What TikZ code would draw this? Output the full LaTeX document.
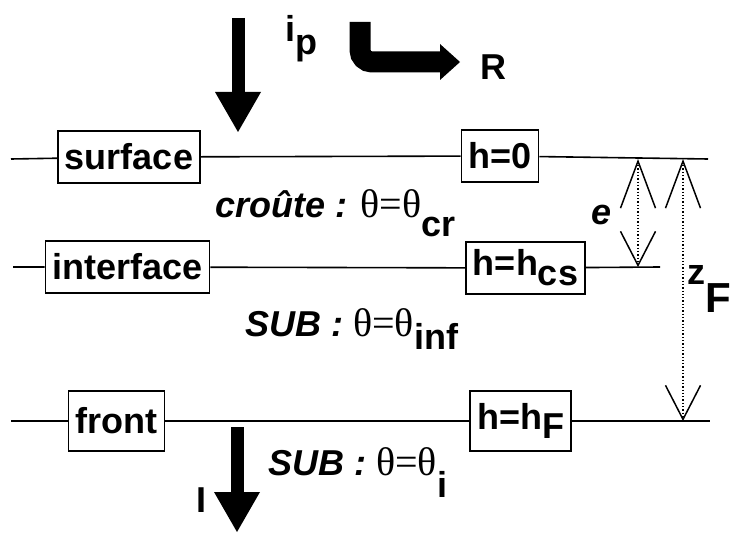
\documentclass[tikz,border=0pt]{standalone}
\usepackage{fontspec}
\setmainfont{Liberation Sans}
\newfontfamily\symfont{Liberation Serif}
\usetikzlibrary{arrows.meta}

% lowered index, same size as the text
\newcommand{\lowr}[2]{\raisebox{-#1pt}{#2}}
\newcommand{\theq}{{\mdseries\symfont\fontsize{40}{42}\selectfont θ=θ}}

\begin{document}
\begin{tikzpicture}[
  x=1pt, y=-1pt,
  font=\fontsize{36}{40}\selectfont\bfseries,
  level/.style={draw, line width=1.8pt, inner xsep=7pt, minimum height=52pt},
  rule/.style={line width=1.6pt},
  lbl/.style={anchor=base west, inner sep=0pt},
  bigarrow/.style={line width=13pt, -{Triangle[length=40pt,width=46pt,line width=0pt]}},
  dimline/.style={line width=1.3pt, dotted,
    {Straight Barb[length=47pt,width=35pt,line width=1.5pt]}-{Straight Barb[length=34pt,width=35pt,line width=1.5pt]}},
]
\useasboundingbox (0,0) rectangle (733,534);

% levels
\node[level] (surf) at (129,157) {surface};
\node[level] (h0) at (500,156) {h=0};
\node[level] (iface) at (127.5,267) {interface};
\node[level] (hcs) at (525.5,268) {h=h\lowr{10}{cs}};
\node[level, minimum height=60pt] (front) at (116.5,421) {front};
\node[level, minimum height=60pt] (hF) at (520.5,421) {h=h\lowr{9}{F}};

\coordinate (l1) at (11,159);   \coordinate (r1) at (708,159);
\coordinate (l2) at (13,267);   \coordinate (r2) at (660,267);
\coordinate (l3) at (11,421);   \coordinate (r3) at (710,421);

\draw[rule] (l1) -- (surf) -- (h0) -- (r1);
\draw[rule] (l2) -- (iface) -- (hcs) -- (r2);
\draw[rule] (l3) -- (front) -- (hF) -- (r3);

% layers
\node[lbl] (crlab) at (215,218) {\textit{croûte :} \theq\lowr{19}{cr}};
\node[lbl] (inflab) at (245,337) {\textit{SUB :} \theq\lowr{13}{inf}};
\node[lbl] (ilab) at (268,475) {\textit{SUB :} \theq\lowr{22}{i}};

% thicknesses
\coordinate (etop) at (638,159);  \coordinate (ebot) at (638,267);
\coordinate (ztop) at (683,159);  \coordinate (zbot) at (683,421);
\draw[dimline] (etop) -- (ebot);
\draw[dimline] (ztop) -- (zbot);
\node[lbl] (elab) at (591,225) {\textit{e}};
\node[lbl] (zlab) at (687,285) {z\lowr{28}{\fontsize{42}{44}\selectfont F}};

% fluxes
\coordinate (iptop) at (238,18);   \coordinate (ipend) at (238,132);
\draw[bigarrow] (iptop) -- (ipend);
\node[lbl] (iplab) at (285,42) {i\lowr{13}{p}};
\coordinate (rtop) at (360,22);    \coordinate (rend) at (460,62);
\draw[line width=21pt, rounded corners=12pt,
  -{Triangle[length=20pt,width=36pt,line width=0pt]}] (rtop) |- (rend);
\node[lbl] (rlab) at (480,80) {R};
\coordinate (itop) at (237,427);   \coordinate (iend) at (237,532);
\draw[bigarrow] (itop) -- (iend);
\node[lbl] (Ilab) at (196,512) {I};
\end{tikzpicture}
\end{document}
